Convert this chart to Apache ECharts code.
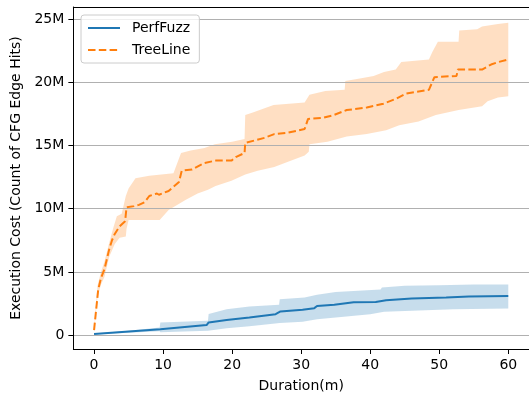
<!DOCTYPE html>
<html>
<head>
<meta charset="utf-8">
<script src="https://cdn.jsdelivr.net/npm/echarts@6/dist/echarts.min.js"></script>
<style>html,body{margin:0;padding:0;background:#fff}#c{width:529px;height:398px}</style>
</head>
<body>
<div id="c"></div>
<script>
// ---- data (values in millions; time in minutes) ----
const xTicks = [0, 10, 20, 30, 40, 50, 60];
const yTicks = [0, 5, 10, 15, 20, 25];
const yTickLabels = ['0', '5M', '10M', '15M', '20M', '25M'];
const seriesNames = ['PerfFuzz', 'TreeLine'];

const treeMeanT = [0, 0.3, 0.6, 1.0, 1.5, 2.2, 2.6, 3.0, 3.7, 4.5, 4.7, 5.8, 6.5, 7.3, 8.0, 9.1, 9.4, 10.8, 12.3, 12.7, 14.2, 15.9, 17.6, 19.9, 20.6, 21.8, 21.9, 23.3, 24.7, 26.1, 28.0, 30.5, 31.0, 33.3, 34.7, 36.6, 39.5, 41.9, 43.8, 45.2, 48.5, 49.3, 52.5, 52.7, 56.2, 57.5, 58.6, 60.0];
const treeMeanV = [0.4, 2.0, 3.6, 4.5, 5.2, 6.8, 7.5, 8.0, 8.6, 9.0, 10.1, 10.2, 10.3, 10.5, 11.0, 11.2, 11.1, 11.4, 12.1, 13.0, 13.1, 13.6, 13.8, 13.8, 14.1, 14.4, 15.2, 15.4, 15.6, 15.9, 16.0, 16.3, 17.1, 17.2, 17.4, 17.8, 18.0, 18.3, 18.7, 19.1, 19.4, 20.4, 20.5, 21.0, 21.0, 21.4, 21.6, 21.8];

const treeUpperT = [0, 0.5, 1.0, 1.5, 2.2, 2.8, 3.3, 4.0, 4.6, 5.0, 6.0, 8.0, 11.5, 12.6, 14.0, 16.0, 17.5, 20.0, 21.8, 21.9, 23.0, 25.0, 26.0, 30.5, 31.2, 33.5, 36.3, 36.4, 38.5, 40.5, 42.0, 43.7, 44.5, 48.5, 49.0, 49.8, 52.8, 52.9, 55.5, 56.2, 58.5, 60.0];
const treeUpperV = [0.5, 3.9, 5.0, 5.8, 7.3, 8.5, 9.4, 9.6, 11.0, 11.6, 12.4, 12.6, 12.8, 14.4, 14.6, 14.8, 15.1, 15.3, 15.5, 17.4, 17.6, 18.0, 18.2, 18.4, 19.0, 19.3, 19.4, 20.1, 20.3, 20.5, 20.8, 21.0, 21.6, 21.8, 22.4, 23.2, 23.2, 24.1, 24.2, 24.4, 24.6, 24.7];

const treeLowerT = [0, 0.5, 1.0, 1.5, 2.2, 3.0, 3.7, 4.6, 4.7, 5.0, 9.5, 10.8, 13.3, 15.0, 16.5, 17.6, 19.9, 21.9, 23.7, 26.1, 28.0, 30.5, 31.1, 31.2, 33.8, 36.6, 39.5, 42.3, 44.2, 47.0, 49.5, 52.8, 56.2, 57.0, 58.5, 60.0];
const treeLowerV = [0.3, 3.0, 4.0, 4.6, 6.2, 7.2, 7.7, 7.8, 8.4, 9.1, 9.1, 9.9, 10.7, 11.2, 11.5, 11.8, 12.2, 12.7, 13.0, 13.3, 13.7, 14.2, 14.5, 15.1, 15.3, 15.7, 15.9, 16.2, 16.6, 16.9, 17.4, 17.8, 18.1, 18.5, 18.8, 18.9];

const perfMeanT = [0, 9.6, 16.3, 16.6, 19.2, 22.5, 26.3, 27.0, 30.2, 31.9, 32.3, 34.8, 37.6, 40.8, 42.3, 46.0, 51.0, 54.3, 60.0];
const perfMeanV = [0.08, 0.47, 0.79, 1.0, 1.2, 1.4, 1.65, 1.87, 2.0, 2.13, 2.3, 2.4, 2.6, 2.62, 2.76, 2.9, 2.97, 3.05, 3.1];

const perfUpperT = [0, 5, 9.5, 9.6, 16.5, 16.6, 19.2, 22.5, 26.8, 26.9, 30.5, 32.3, 35.0, 41.5, 41.7, 45.0, 50.0, 55.0, 60.0];
const perfUpperV = [0.12, 0.35, 0.6, 1.0, 1.13, 1.66, 2.05, 2.26, 2.4, 2.84, 2.97, 3.2, 3.4, 3.6, 3.76, 3.9, 3.95, 4.0, 4.0];

const perfLowerT = [0, 5, 9.5, 9.6, 16.5, 19.2, 22.5, 26.9, 30.2, 32.3, 35.0, 40.0, 42.0, 47.0, 52.0, 60.0];
const perfLowerV = [0.04, 0.18, 0.3, 0.22, 0.34, 0.55, 0.69, 0.95, 1.05, 1.26, 1.4, 1.65, 1.84, 1.95, 2.05, 2.1];

// ---- helpers ----
const zip = (t, v) => t.map((x, i) => [x, v[i]]);
function band(upT, upV, loT, loV, fill) {
  return function (params, api) {
    const pts = [];
    for (let i = 0; i < upT.length; i++) pts.push(api.coord([upT[i], upV[i]]));
    for (let i = loT.length - 1; i >= 0; i--) pts.push(api.coord([loT[i], loV[i]]));
    return { type: 'polygon', shape: { points: pts }, style: { fill: fill }, silent: true };
  };
}

const FONT = 'DejaVu Sans';
const chart = echarts.init(document.getElementById('c'), null, { renderer: 'canvas' });
chart.setOption({
  animation: false,
  backgroundColor: '#fff',
  textStyle: { fontFamily: FONT, color: '#000' },
  grid: { left: 73.35, top: 7, width: 460.9, height: 343, containLabel: false },
  legend: {
    data: seriesNames,
    orient: 'vertical',
    left: 81, top: 15,
    padding: [6, 9, 6, 6],
    itemGap: 8,
    itemWidth: 32, itemHeight: 14,
    itemStyle: { opacity: 0 },
    backgroundColor: 'rgba(255,255,255,0.8)',
    borderColor: '#cccccc', borderWidth: 1, borderRadius: 3,
    textStyle: { fontFamily: FONT, fontSize: 14, color: '#000', padding: [0, 0, 0, 7] }
  },
  xAxis: [{
    type: 'value', min: -3, max: 63, splitNumber: 6,
    name: 'Duration(m)', nameLocation: 'middle', nameGap: 30,
    nameTextStyle: { fontFamily: FONT, fontSize: 14, color: '#000' },
    axisLine: { show: true, onZero: false, lineStyle: { color: '#000', width: 1 } },
    axisTick: { show: true, length: 5, customValues: xTicks, lineStyle: { color: '#000', width: 1 } },
    axisLabel: { customValues: xTicks, margin: 9, fontFamily: FONT, fontSize: 14, color: '#000' },
    splitLine: { show: false }
  }, {
    type: 'value', position: 'top', min: -3, max: 63,
    axisLine: { show: true, onZero: false, lineStyle: { color: '#000', width: 1 } },
    axisTick: { show: false }, axisLabel: { show: false }, splitLine: { show: false }
  }],
  yAxis: {
    type: 'value', min: -1.1, max: 25.95, splitNumber: 5,
    name: 'Execution Cost (Count of CFG Edge Hits)', nameLocation: 'middle', nameGap: 48,
    nameTextStyle: { fontFamily: FONT, fontSize: 14, color: '#000' },
    axisLine: { show: true, onZero: false, lineStyle: { color: '#000', width: 1 } },
    axisTick: { show: true, length: 5, customValues: yTicks, lineStyle: { color: '#000', width: 1 } },
    axisLabel: {
      customValues: yTicks, margin: 9, fontFamily: FONT, fontSize: 14, color: '#000',
      formatter: v => yTickLabels[yTicks.indexOf(Math.round(v))] || ''
    },
    splitLine: { show: true, lineStyle: { color: '#b0b0b0', width: 1 } }
  },
  series: [
    { type: 'custom', name: 'PerfFuzz band', z: -1, silent: true, data: [[0, 0]],
      renderItem: band(perfUpperT, perfUpperV, perfLowerT, perfLowerV, 'rgba(31,119,180,0.25)') },
    { type: 'custom', name: 'TreeLine band', z: -1, silent: true, data: [[0, 0]],
      renderItem: band(treeUpperT, treeUpperV, treeLowerT, treeLowerV, 'rgba(255,127,14,0.25)') },
    { type: 'line', name: 'PerfFuzz', data: zip(perfMeanT, perfMeanV), symbol: 'none',
      lineStyle: { color: '#1f77b4', width: 2 }, itemStyle: { color: '#1f77b4' } },
    { type: 'line', name: 'TreeLine', data: zip(treeMeanT, treeMeanV), symbol: 'none',
      lineStyle: { color: '#ff7f0e', width: 2, type: [7.5, 3.3] }, itemStyle: { color: '#ff7f0e' } }
  ]
});
</script>
</body>
</html>
